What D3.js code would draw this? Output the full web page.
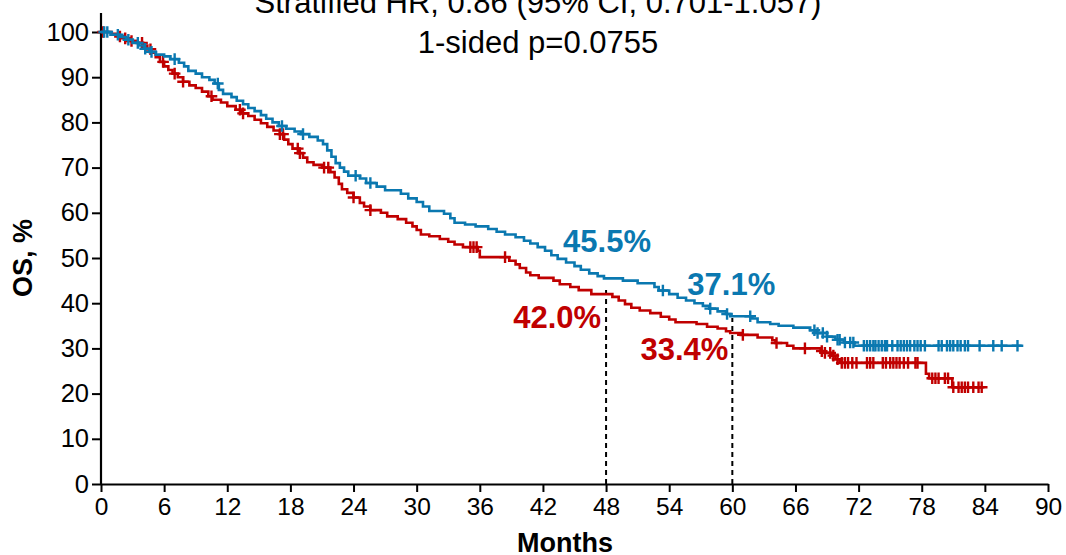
<!DOCTYPE html>
<html>
<head>
<meta charset="utf-8">
<script src="https://cdn.jsdelivr.net/npm/d3@7"></script>
<style>
  html, body { margin: 0; padding: 0; background: #fff; }
  svg { display: block; font-family: Arial, "Liberation Sans", sans-serif; }
</style>
</head>
<body>
<svg id="chart" width="1066" height="555"></svg>
<script>
// Kaplan-Meier overall survival, two arms (step times in months, survival in %)
const blueTimes = [0, 0.9, 1.8, 2.4, 3.0, 3.6, 4.1, 4.6, 5.2, 6.0, 6.6, 7.4, 7.9, 8.3, 9.0, 9.6, 10.3, 10.8, 11.2, 11.6,
  12.4, 12.9, 13.5, 14.0, 14.6, 15.2, 15.7, 16.3, 16.9, 17.6, 18.4, 19.0, 19.8, 20.6, 21.1, 21.5, 21.9, 22.3, 22.7, 23.1,
  23.5, 24.6, 25.2, 26.2, 27.0, 28.5, 29.2, 30.0, 30.6, 31.2, 32.6, 33.2, 33.6, 34.6, 35.6, 36.8, 37.6, 38.4, 39.4, 40.2,
  40.8, 41.5, 42.2, 42.8, 43.4, 44.2, 45.0, 45.6, 46.4, 47.2, 47.8, 49.6, 51.0, 52.6, 53.0, 54.0, 54.8, 55.6, 56.4, 57.2,
  57.8, 58.6, 59.4, 59.8, 61.9, 62.4, 63.6, 64.4, 65.8, 67.4, 68.0, 69.0, 69.8, 70.6, 71.6];
const blueSurv = [100, 99.4, 98.9, 98.3, 97.6, 97.0, 96.3, 95.6, 95.0, 94.6, 94.0, 93.2, 92.4, 91.4, 90.8, 90.0, 89.4, 88.6, 87.2, 86.3,
  85.6, 84.8, 84.0, 83.2, 82.5, 81.6, 80.8, 80.0, 79.2, 78.6, 78.0, 77.4, 76.8, 76.0, 75.2, 73.8, 72.4, 71.0, 70.0, 69.1,
  68.2, 67.6, 66.6, 65.8, 65.0, 64.2, 63.2, 62.4, 61.4, 60.4, 59.8, 58.8, 57.8, 57.4, 57.0, 56.4, 55.8, 55.2, 54.6, 53.8,
  53.2, 52.4, 51.6, 50.6, 49.8, 49.0, 48.2, 47.4, 46.6, 46.0, 45.5, 45.0, 44.4, 43.6, 42.8, 42.0, 41.2, 40.6, 40.0, 39.4,
  38.8, 38.2, 37.6, 37.1, 36.6, 35.8, 35.4, 35.0, 34.6, 34.0, 33.4, 32.6, 31.9, 31.3, 30.6];
const blueEnd = 87.5;
const blueCensor = [0.3, 0.6, 1.6, 2.6, 3.5, 4.2, 4.8, 7.0, 11.1, 17.2, 19.2, 24.2, 25.6, 53.4, 57.9, 59.5, 61.7,
  67.8, 68.1, 68.6, 69.0, 70.0, 70.2, 70.7, 71.2, 71.5, 72.5, 72.8, 73.1, 73.4, 73.6, 73.9, 74.2, 74.5, 74.7,
  75.2, 75.7, 76.0, 76.3, 76.6, 76.9, 77.3, 77.6, 77.9, 78.3, 79.6, 79.9, 80.4, 80.7, 81.0, 81.4, 81.7, 82.1, 82.4,
  83.5, 84.8, 85.6, 87.1];

const redTimes = [0, 1.0, 1.6, 2.2, 2.8, 3.4, 4.0, 4.4, 4.8, 5.2, 5.6, 6.0, 6.4, 6.8, 7.3, 7.8, 8.4, 9.0, 9.6, 10.2,
  10.6, 11.4, 12.0, 12.8, 13.4, 14.0, 14.6, 15.2, 15.8, 16.4, 17.0, 17.4, 17.8, 18.2, 18.8, 19.2, 19.6, 20.2, 21.0, 21.8,
  22.2, 22.6, 22.9, 23.4, 24.0, 24.6, 25.0, 25.6, 26.6, 27.2, 28.2, 29.0, 29.6, 30.0, 30.4, 31.2, 32.2, 33.0, 33.6, 34.4,
  35.8, 36.0, 38.8, 39.4, 39.8, 40.4, 40.8, 41.6, 43.0, 43.6, 44.6, 45.4, 46.6, 48.6, 49.2, 49.8, 50.4, 51.2, 52.2, 53.2,
  54.0, 54.6, 56.6, 57.6, 58.6, 59.4, 59.8, 60.8, 62.4, 63.8, 64.1, 65.2, 65.8, 68.4, 68.8, 69.4, 69.8, 70.2, 78.4, 78.7,
  80.9];
const redSurv = [100, 99.6, 99.0, 98.6, 98.0, 97.6, 97.0, 96.2, 95.4, 94.4, 93.4, 92.4, 91.6, 90.8, 90.0, 89.0, 88.2, 87.6, 86.8, 85.8,
  85.0, 84.4, 83.6, 82.8, 82.0, 81.4, 80.6, 79.8, 79.0, 78.2, 77.4, 76.2, 75.2, 74.2, 73.2, 72.2, 71.2, 70.6, 70.0, 69.0,
  67.8, 66.4, 65.2, 64.4, 63.4, 62.2, 61.4, 60.6, 60.0, 59.2, 58.6, 57.8, 57.0, 56.2, 55.2, 54.8, 54.2, 53.6, 53.0, 52.4,
  51.6, 50.2, 49.4, 48.6, 47.8, 46.8, 46.2, 45.6, 45.0, 44.2, 43.6, 42.9, 42.0, 41.4, 40.6, 39.8, 39.0, 38.4, 37.8, 37.0,
  36.4, 35.8, 35.4, 34.8, 34.4, 33.8, 33.4, 33.0, 32.4, 31.8, 31.2, 30.6, 30.0, 29.4, 29.0, 28.4, 27.6, 26.8, 24.4, 23.4,
  21.4];
const redEnd = 83.8;
const redCensor = [0.2, 1.8, 2.3, 2.9, 3.9, 4.7, 5.9, 7.0, 7.8, 10.5, 13.2, 13.5, 17.0, 17.3, 18.7, 18.9, 21.2, 21.6,
  24.0, 25.6, 35.1, 35.4, 35.7, 38.4, 61.0, 64.2, 66.9, 68.5, 68.8, 69.3, 69.6, 70.0, 70.4, 70.7, 71.0, 71.4, 71.8,
  72.8, 73.1, 73.4, 74.3, 74.6, 75.0, 75.3, 75.6, 75.9, 76.3, 76.7, 77.4, 77.6, 79.0, 79.3, 79.6, 80.2, 80.5,
  81.0, 81.5, 81.8, 82.1, 82.4, 82.9, 83.4, 83.7];

// Landmark estimates at 48 and 60 months
const landmarkMonths = [48, 60];
const blueLandmark = [45.5, 37.1];
const redLandmark = [42.0, 33.4];
const guideTop = [43.6, 36.7];

const xTicks = d3.range(0, 91, 6);
const yTicks = d3.range(0, 101, 10);
const titleLines = ["Stratified HR, 0.86 (95% CI, 0.701-1.057)", "1-sided p=0.0755"];

const BLUE = "#0a78b0";
const RED = "#c00000";

const svg = d3.select("#chart");
const x = d3.scaleLinear().domain([0, 90]).range([101, 1048]);
const y = d3.scaleLinear().domain([0, 100]).range([484, 32]);

function stepPoints(times, surv, end) {
  const pts = times.map((t, i) => [t, surv[i]]);
  pts.push([end, surv[surv.length - 1]]);
  return pts;
}
function survAt(times, surv, t) {
  const i = Math.max(0, d3.bisectRight(times, t) - 1);
  return surv[i];
}

const line = d3.line().x(d => x(d[0])).y(d => y(d[1])).curve(d3.curveStepAfter);

// Axes
const xAxis = d3.axisBottom(x).tickValues(xTicks).tickSize(8).tickSizeOuter(0).tickPadding(6);
const yAxis = d3.axisLeft(y).tickValues(yTicks).tickSize(9).tickSizeOuter(0).tickPadding(3);

const gx = svg.append("g").attr("transform", "translate(0,484)").call(xAxis);
gx.select(".domain").attr("stroke", "#000").attr("stroke-width", 2.2);
gx.selectAll(".tick line").attr("stroke", "#000").attr("stroke-width", 2);
gx.selectAll(".tick text").attr("font-size", 24.5).attr("fill", "#000")
  .attr("font-family", "Arial, 'Liberation Sans', sans-serif").attr("dy", "0.71em");

const gy = svg.append("g").attr("transform", "translate(101,0)").call(yAxis);
gy.select(".domain").remove();
gy.append("line").attr("x1", 0).attr("x2", 0).attr("y1", 13).attr("y2", 485)
  .attr("stroke", "#000").attr("stroke-width", 2.2);
gy.selectAll(".tick line").attr("stroke", "#000").attr("stroke-width", 2);
gy.selectAll(".tick text").attr("font-size", 25.5).attr("fill", "#000")
  .attr("font-family", "Arial, 'Liberation Sans', sans-serif");

// Landmark guides
svg.append("g").selectAll("line").data(landmarkMonths).join("line")
  .attr("x1", d => x(d)).attr("x2", d => x(d))
  .attr("y1", y(0)).attr("y2", (d, i) => y(guideTop[i]))
  .attr("stroke", "#000").attr("stroke-width", 2).attr("stroke-dasharray", "5,4");

// Curves
const arms = [
  {times: redTimes, surv: redSurv, end: redEnd, censor: redCensor, color: RED},
  {times: blueTimes, surv: blueSurv, end: blueEnd, censor: blueCensor, color: BLUE}
];
arms.forEach(a => {
  svg.append("path").datum(stepPoints(a.times, a.surv, a.end))
    .attr("d", line).attr("fill", "none").attr("stroke", a.color)
    .attr("stroke-width", 2.6).attr("stroke-linejoin", "miter");
  const s = 5.8;
  svg.append("g").selectAll("path").data(a.censor).join("path")
    .attr("d", t => {
      const cx = x(t), cy = y(survAt(a.times, a.surv, t));
      return `M${cx - s},${cy}H${cx + s}M${cx},${cy - s}V${cy + s}`;
    })
    .attr("stroke", a.color).attr("stroke-width", 2.4).attr("fill", "none");
});

// Landmark labels
const lbl = svg.append("g").attr("font-weight", "bold").attr("font-size", 31);
const blueOff = [[-43, -26], [-45, -21]];
const redOff = [[-5, 34], [-4, 27]];
landmarkMonths.forEach((m, i) => {
  lbl.append("text").attr("x", x(m) + blueOff[i][0]).attr("y", y(blueLandmark[i]) + blueOff[i][1])
    .attr("fill", BLUE).attr("text-anchor", "start").text(blueLandmark[i].toFixed(1) + "%");
  lbl.append("text").attr("x", x(m) + redOff[i][0]).attr("y", y(redLandmark[i]) + redOff[i][1])
    .attr("fill", RED).attr("text-anchor", "end").text(redLandmark[i].toFixed(1) + "%");
});

// Title
svg.append("g").selectAll("text").data(titleLines).join("text")
  .attr("x", 538).attr("y", (d, i) => 13 + i * 40)
  .attr("text-anchor", "middle").attr("font-size", 31).attr("fill", "#000")
  .text(d => d);

// Axis titles
svg.append("text").attr("x", 565).attr("y", 552).attr("text-anchor", "middle")
  .attr("font-size", 27).attr("font-weight", "bold").text("Months");
svg.append("text").attr("transform", "translate(32,258) rotate(-90)").attr("text-anchor", "middle")
  .attr("font-size", 27).attr("font-weight", "bold").text("OS, %");
</script>
</body>
</html>
